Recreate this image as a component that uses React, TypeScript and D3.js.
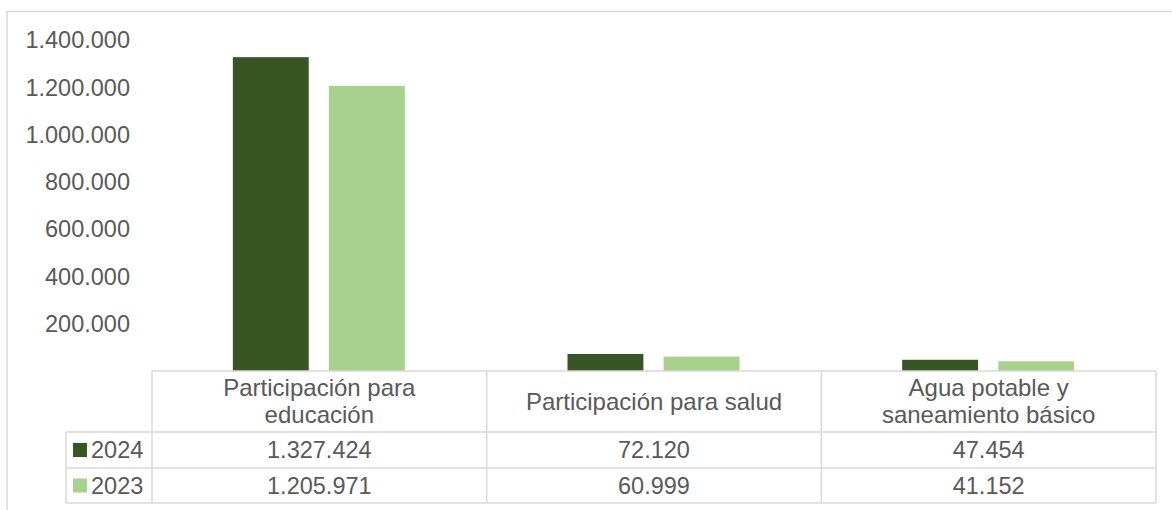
import React from "react";
import * as d3 from "d3";

// Categories (two-line labels where the header wraps)
const categories = [
  ["Participación para", "educación"],
  ["Participación para salud"],
  ["Agua potable y", "saneamiento básico"],
];
const seriesNames = ["2024", "2023"];
const values2024 = [1327424, 72120, 47454];
const values2023 = [1205971, 60999, 41152];
const yTicks = [200000, 400000, 600000, 800000, 1000000, 1200000, 1400000];

const W = 1172;
const H = 510;
const COLORS = ["#375623", "#A9D18E"];
const GRID = "#D9D9D9";
const TEXT = "#595959";
const FONT = "'Liberation Sans', Arial, sans-serif";
const FS = 23.5;
const FS_HEAD = 24;

const fmt = (v: number) => d3.format(",")(v).replace(/,/g, ".");

export default function App() {
  const plotLeft = 152;
  const plotRight = 1156;
  const plotTop = 40;
  const plotBottom = 371;
  const headerBottom = 432;
  const row1Bottom = 468;
  const row2Bottom = 503;
  const legendLeft = 66;

  const y = d3.scaleLinear().domain([0, 1400000]).range([plotBottom, plotTop]);
  const x0 = d3
    .scaleBand<number>()
    .domain(categories.map((_, i) => i))
    .range([plotLeft, plotRight])
    .padding(0);
  const bw = x0.bandwidth();
  const x1 = d3
    .scaleBand<string>()
    .domain(seriesNames)
    .range([bw / 2 - 86.5, bw / 2 + 85.5])
    .paddingInner(0.21);

  const series = [values2024, values2023];
  const rowBounds = [
    [headerBottom, row1Bottom],
    [row1Bottom, row2Bottom],
  ];

  return (
    <svg
      width={W}
      height={H}
      style={{ position: "absolute", left: 0, top: 0, background: "#fff" }}
      fontFamily={FONT}
    >
      <rect x={7} y={11.5} width={W} height={H} fill="#fff" stroke={GRID} strokeWidth={1.5} />

      {/* value axis labels */}
      {yTicks.map((t) => (
        <text key={t} x={130} y={y(t)} dy="0.35em" textAnchor="end" fontSize={FS} fill={TEXT}>
          {fmt(t)}
        </text>
      ))}

      {/* bars */}
      {categories.map((_, ci) =>
        seriesNames.map((s, si) => {
          const v = series[si][ci];
          const bx = (x0(ci) as number) + (x1(s) as number);
          return (
            <rect
              key={`${ci}-${s}`}
              x={bx}
              y={y(v)}
              width={x1.bandwidth()}
              height={plotBottom - y(v)}
              fill={COLORS[si]}
            />
          );
        })
      )}

      {/* data table */}
      <g stroke={GRID} strokeWidth={1.5} fill="none">
        <line x1={plotLeft} x2={plotRight} y1={plotBottom} y2={plotBottom} />
        <line x1={legendLeft} x2={plotRight} y1={headerBottom} y2={headerBottom} />
        <line x1={legendLeft} x2={plotRight} y1={row1Bottom} y2={row1Bottom} />
        <line x1={legendLeft} x2={plotRight} y1={row2Bottom} y2={row2Bottom} />
        <line x1={legendLeft} x2={legendLeft} y1={headerBottom} y2={row2Bottom} />
        {categories.map((_, ci) => (
          <line key={ci} x1={x0(ci) as number} x2={x0(ci) as number} y1={plotBottom} y2={row2Bottom} />
        ))}
        <line x1={plotRight} x2={plotRight} y1={plotBottom} y2={row2Bottom} />
      </g>

      {/* column headers */}
      {categories.map((lines, ci) => {
        const cx = (x0(ci) as number) + bw / 2;
        const mid = (plotBottom + headerBottom) / 2;
        const lh = 27;
        return (
          <text key={ci} textAnchor="middle" fontSize={FS_HEAD} fill={TEXT}>
            {lines.map((ln, li) => (
              <tspan key={li} x={cx} y={mid + (li - (lines.length - 1) / 2) * lh} dy="0.35em">
                {ln}
              </tspan>
            ))}
          </text>
        );
      })}

      {/* rows: legend key + values */}
      {seriesNames.map((s, si) => {
        const [t, b] = rowBounds[si];
        const mid = (t + b) / 2;
        return (
          <g key={s}>
            <rect x={73} y={mid - 7} width={14} height={14} fill={COLORS[si]} />
            <text x={91} y={mid} dy="0.35em" fontSize={FS} fill={TEXT}>
              {s}
            </text>
            {categories.map((_, ci) => (
              <text
                key={ci}
                x={(x0(ci) as number) + bw / 2}
                y={mid}
                dy="0.35em"
                textAnchor="middle"
                fontSize={FS}
                fill={TEXT}
              >
                {fmt(series[si][ci])}
              </text>
            ))}
          </g>
        );
      })}
    </svg>
  );
}
